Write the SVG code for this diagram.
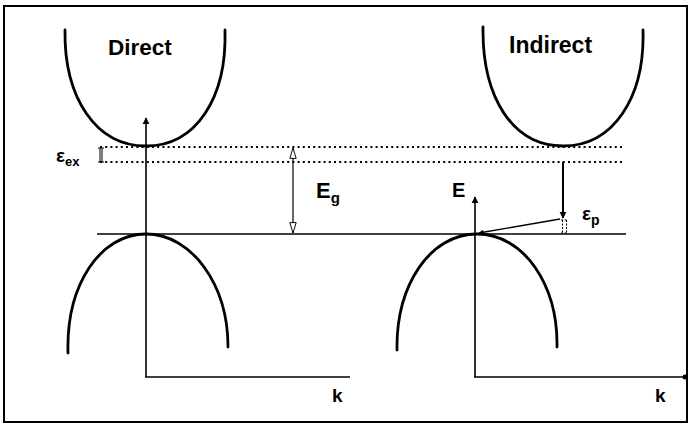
<svg xmlns="http://www.w3.org/2000/svg" width="690" height="425" viewBox="0 0 690 425">
<style>
.band{fill:none;stroke:#000;stroke-width:2.8;stroke-linecap:round}
.ax{fill:none;stroke:#000;stroke-width:1.6}
.dot{fill:none;stroke:#000;stroke-width:2;stroke-dasharray:2 3.2}
.t{font-family:"Liberation Sans",Arial,sans-serif;font-weight:bold;fill:#000}
</style>
<defs>
<marker id="ah" viewBox="0 0 10 10" refX="9" refY="5" markerWidth="7" markerHeight="8" markerUnits="userSpaceOnUse" orient="auto"><path d="M0,0 L10,5 L0,10 Z" fill="#000"/></marker>
<marker id="hollow" viewBox="0 0 14 10" refX="13" refY="5" markerWidth="14" markerHeight="8" markerUnits="userSpaceOnUse" orient="auto-start-reverse"><path d="M0,1 L13,5 L0,9 Z" fill="#fff" stroke="#000" stroke-width="1.2"/></marker>
<marker id="sm" viewBox="0 0 10 10" refX="9" refY="5" markerWidth="6" markerHeight="5" markerUnits="userSpaceOnUse" orient="auto"><path d="M0,0 L10,5 L0,10 Z" fill="#000"/></marker>
</defs>
<rect x="0" y="0" width="690" height="425" fill="#fff"/>
<rect x="4" y="6" width="683" height="416" fill="none" stroke="#000" stroke-width="2"/>

<g id="direct-conduction"><path class="band" d="M65,30 C64,98 96,146 146,146 C196,146 227,98 225,30"/></g>
<g id="direct-valence"><path class="band" d="M68,353 C66,285 100,234 146,234 C192,234 228,285 228,347"/></g>
<g id="indirect-conduction"><path class="band" d="M483,27 C482,98 513,146 563,146 C613,146 645,98 643,30"/></g>
<g id="indirect-valence"><path class="band" d="M397,350 C396,285 430,234 477,234 C524,234 558,285 557,347"/></g>

<g id="levels">
<line class="dot" x1="100" y1="147" x2="624" y2="147"/>
<line class="dot" x1="100" y1="162" x2="624" y2="162"/>
<line class="ax" x1="97" y1="234" x2="626" y2="234"/>
</g>

<g id="connectors">
<line class="ax" x1="146" y1="377" x2="146" y2="118" marker-end="url(#ah)"/>
<line class="ax" x1="145" y1="377" x2="350" y2="377"/>
<line class="ax" x1="475" y1="377" x2="475" y2="197" marker-end="url(#ah)"/>
<line class="ax" x1="474" y1="377" x2="684" y2="377"/>
<circle cx="685" cy="377" r="2.5" fill="#000"/>
<line x1="293" y1="148" x2="293" y2="233" stroke="#000" stroke-width="1.2" marker-start="url(#hollow)" marker-end="url(#hollow)"/>
<line x1="563" y1="162" x2="563" y2="218" stroke="#000" stroke-width="2" marker-end="url(#ah)"/>
<line x1="560" y1="219" x2="479" y2="233" stroke="#000" stroke-width="1.4" marker-end="url(#sm)"/>
</g>

<g id="ex-gap">
<path d="M98,148 H104 M98,162 H104 M100,148 V162 M102,148 V162" fill="none" stroke="#000" stroke-width="1"/>
</g>
<g id="p-gap">
<path d="M561,220 H568 M561,233 H568 M562.5,220 V233 M566.5,220 V233" fill="none" stroke="#000" stroke-width="1" stroke-dasharray="2 1.5"/>
</g>

<g id="labels">
<text class="t" x="108" y="55" font-size="22.5">Direct</text>
<text class="t" x="509" y="53" font-size="23">Indirect</text>
<text class="t" x="56" y="162" font-size="19">ε<tspan font-size="13" dy="4">ex</tspan></text>
<text class="t" x="316" y="198" font-size="22">E<tspan font-size="15" dy="5">g</tspan></text>
<text class="t" x="452" y="197" font-size="20">E</text>
<text class="t" x="582" y="220" font-size="19">ε<tspan font-size="14" dy="5">p</tspan></text>
<text class="t" x="332" y="402" font-size="19">k</text>
<text class="t" x="655" y="402" font-size="19">k</text>
</g>
</svg>
